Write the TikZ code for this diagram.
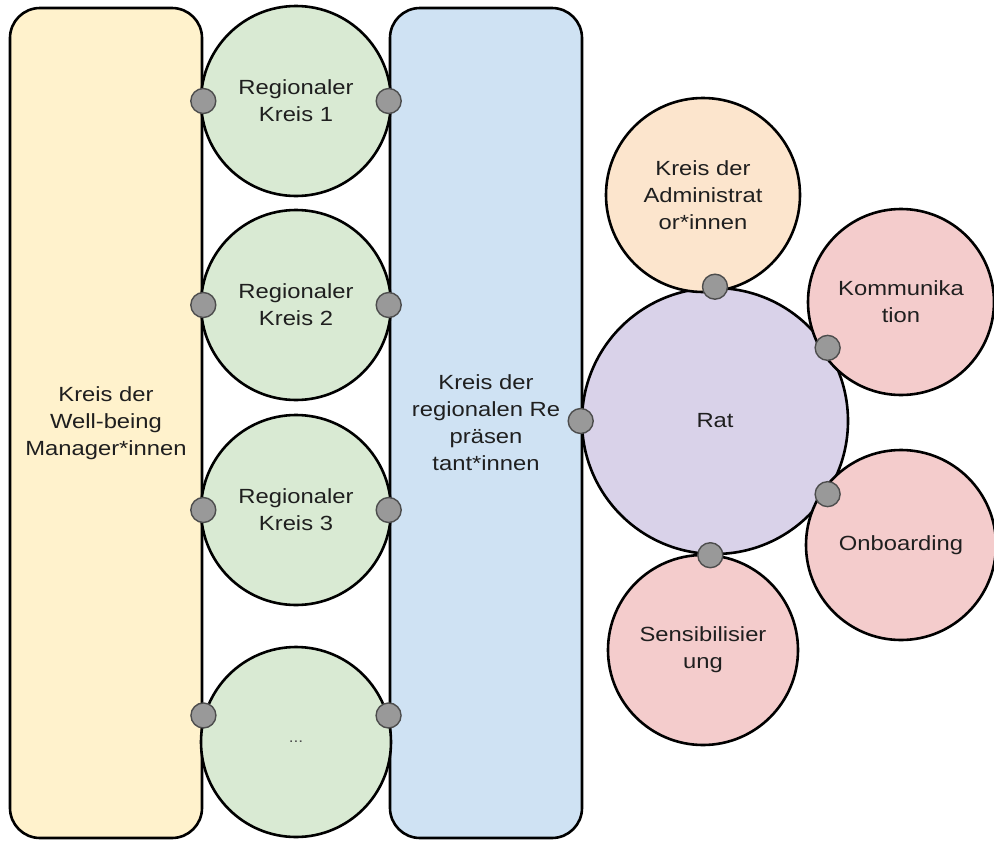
\documentclass[tikz,border=0pt]{standalone}
\usepackage{fontspec}
\setmainfont{Liberation Sans}[FakeStretch=1.16]
\usepackage{tikz}
\usetikzlibrary{positioning,calc}
\definecolor{wbyellow}{HTML}{FFF2CC}
\definecolor{reprblue}{HTML}{CFE2F3}
\definecolor{reggreen}{HTML}{D9EAD3}
\definecolor{adminorange}{HTML}{FCE5CD}
\definecolor{teampink}{HTML}{F4CCCC}
\definecolor{ratpurple}{HTML}{D9D2E9}
\definecolor{linkgray}{HTML}{999999}
\definecolor{linkborder}{HTML}{4D4D4D}
\definecolor{textgray}{HTML}{1F1F1F}
\tikzset{
    panel/.style = {
        draw,
        shape=rectangle,
        rounded corners=30pt,
        minimum height=830pt,
        minimum width=192pt,
        line width=2.6pt,
        align=center,
        text=textgray
    },
    region/.style = {
        draw,
        shape=circle,
        minimum size=190pt,
        inner sep=0pt,
        line width=2.6pt,
        fill=reggreen,
        align=center,
        text=textgray
    },
    team/.style = {
        draw,
        shape=circle,
        minimum size=192pt,
        inner sep=0pt,
        line width=2.6pt,
        fill=teampink,
        align=center,
        text=textgray
    },
    link/.style = {
        draw=linkborder,
        fill=linkgray,
        shape=circle,
        minimum size=25pt,
        inner sep=0pt,
        line width=1.4pt
    },
}

\begin{document}
\begin{tikzpicture}[x=1pt, y=-1pt, font=\fontsize{20.5}{27}\selectfont]
            \useasboundingbox (0,0) rectangle (994,841);

            \node[panel, fill=wbyellow] (wellbeing) at (106,423) {Kreis der\\Well-being\\Manager*innen};
            \node[panel, fill=reprblue] (repr) at (486,423) {Kreis der\\regionalen Re\\präsen\\tant*innen};

            \node[region] (reg1) at (296,101) {Regionaler\\Kreis 1};
            \node[region] (reg2) at (296,305) {Regionaler\\Kreis 2};
            \node[region] (reg3) at (296,510) {Regionaler\\Kreis 3};
            \node[region, text=linkborder, font=\fontsize{15}{18}\selectfont] (reg4) at (296,742) {...};

            \node[team, minimum size=266pt, fill=ratpurple] (rat) at (715,421) {Rat};
            \node[team, minimum size=194pt, fill=adminorange] (admin) at (703,195) {Kreis der\\Administrat\\or*innen};
            \node[team, minimum size=186pt] (komm) at (901,302) {Kommunika\\tion};
            \node[team, minimum size=190pt] (onboard) at (901,545) {Onboarding};
            \node[team, minimum size=190pt] (sensi) at (703,650) {Sensibilisier\\ung};

            % Verbindungen
            \node[link] (l1) at (wellbeing.east |- reg1) {};
            \node[link] (r1) at (repr.west |- reg1) {};
            \node[link] (l2) at (wellbeing.east |- reg2) {};
            \node[link] (r2) at (repr.west |- reg2) {};
            \node[link] (l3) at (wellbeing.east |- reg3) {};
            \node[link] (r3) at (repr.west |- reg3) {};
            \node[link] (l4) at (reg4.164) {};
            \node[link] (r4) at (reg4.16) {};

            \node[link] (ratrepr) at (rat.180) {};
            \node[link] (ratadmin) at (rat.90) {};
            \node[link] (ratkomm) at (rat.33) {};
            \node[link] (ratonboard) at (rat.-33) {};
            \node[link] (ratsensi) at (rat.-92) {};
        \end{tikzpicture}
\end{document}
